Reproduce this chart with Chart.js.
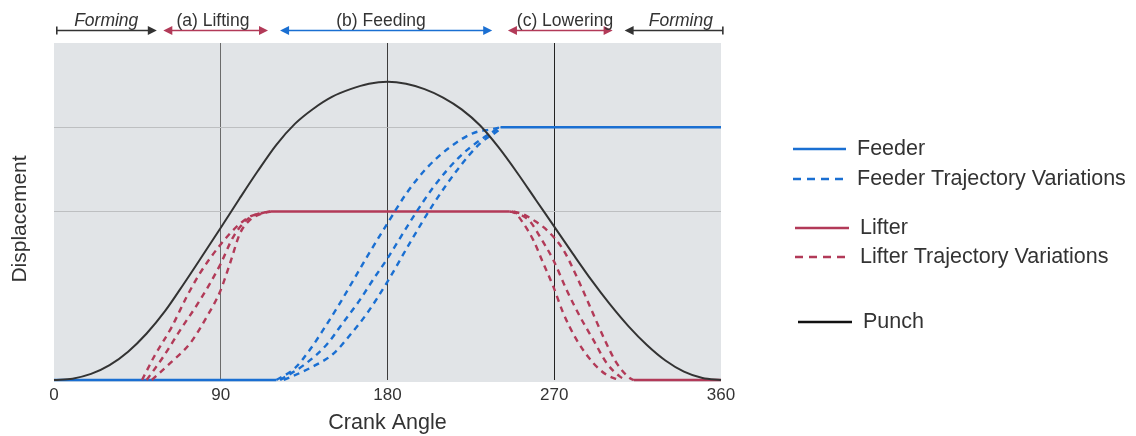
<!DOCTYPE html>
<html><head><meta charset="utf-8">
<script src="https://cdn.jsdelivr.net/npm/chart.js@4.4.1/dist/chart.umd.min.js"></script>
<style>html,body{margin:0;padding:0;background:#fff;}#wrap{width:1136px;height:436px;position:relative;}</style>
</head><body><div id="wrap"><canvas id="c" width="1136" height="436"></canvas></div>
<script>
// ---------- data ----------
const xTickValues = [0, 90, 180, 270, 360];
const yGridValues = [0.5, 0.75];

const punchAngles = [0,10,20,30,40,50,60,70,80,90,100,110,120,130,140,150,160,170,180,190,200,210,220,230,240,250,260,270,280,290,300,310,320,330,340,350,360];
const punchValues = [0,0.004,0.018,0.044,0.084,0.138,0.205,0.285,0.368,0.452,0.537,0.62,0.698,0.76,0.805,0.84,0.863,0.879,0.885,0.879,0.863,0.838,0.803,0.755,0.69,0.615,0.535,0.455,0.375,0.297,0.225,0.16,0.104,0.058,0.025,0.006,0];

const feederBaseAngles = [0, 120];
const feederBaseValues = [0, 0];
const feederTopAngles = [241, 360];
const feederTopValues = [0.75, 0.75];

const feederVarAAngles = [120,130,138,146,154,162,169,180,190,201,214,226,237,241];
const feederVarAValues = [0,0.035,0.089,0.155,0.225,0.30,0.366,0.465,0.552,0.628,0.692,0.732,0.745,0.75];
const feederVarBAngles = [122,135,147,156,165,172,180,194,205,219,230,237,241];
const feederVarBValues = [0,0.045,0.104,0.17,0.237,0.296,0.361,0.485,0.574,0.663,0.712,0.737,0.75];
const feederVarCAngles = [124,138,151,160,169,180,192,205,219,230,239,242];
const feederVarCValues = [0,0.035,0.079,0.135,0.198,0.292,0.406,0.524,0.633,0.702,0.737,0.75];

const lifterTopAngles = [117, 246];
const lifterTopValues = [0.5, 0.5];
const lifterBaseAngles = [313, 360];
const lifterBaseValues = [0, 0];

const lifterUpAAngles = [47.5,54,63.6,71.6,78.8,89.6,98.6,105.8,114.8,117];
const lifterUpAValues = [0,0.069,0.158,0.247,0.317,0.40,0.455,0.485,0.498,0.5];
const lifterUpBAngles = [50,59,68.1,78.8,89.6,96.8,104,111.2,117];
const lifterUpBValues = [0,0.069,0.148,0.237,0.341,0.425,0.475,0.495,0.5];
const lifterUpCAngles = [52.8,62.7,73.5,82.5,89.6,95,100.4,105.8,113,117];
const lifterUpCValues = [0,0.05,0.109,0.188,0.262,0.346,0.435,0.475,0.495,0.5];

const lifterDownAAngles = [246,249,253.3,258.7,264.1,269.5,274.9,282.1,291.1,298.3,305];
const lifterDownAValues = [0.5,0.495,0.465,0.415,0.346,0.277,0.198,0.119,0.05,0.015,0];
const lifterDownBAngles = [247,252,257,262.3,269.5,276.7,283.9,291.1,298.3,305.5,309];
const lifterDownBValues = [0.5,0.49,0.47,0.425,0.356,0.267,0.188,0.119,0.05,0.01,0];
const lifterDownCAngles = [248,254,260,266,274.9,282.1,289.3,296.5,303.7,310.9,313];
const lifterDownCValues = [0.5,0.49,0.47,0.445,0.386,0.307,0.218,0.128,0.05,0.005,0];

const phaseLabels = ['Forming', '(a) Lifting', '(b) Feeding', '(c) Lowering', 'Forming'];
const legendLabels = ['Feeder', 'Feeder Trajectory Variations', 'Lifter', 'Lifter Trajectory Variations', 'Punch'];
const xTitle = 'Crank Angle';
const yTitle = 'Displacement';

// ---------- styles ----------
const BLUE = '#1a6fd2';
const RED = '#b23a58';
const BLACK = '#333333';
const FONT = '"Liberation Sans", Arial, sans-serif';
const TXT = '#333333';

function pts(xs, ys) { return xs.map((x, i) => ({ x: x, y: ys[i] })); }

function solid(data, color, w) {
  return { data: data, borderColor: color, borderWidth: w || 2.5, pointRadius: 0, fill: false, tension: 0, clip: false };
}
function dashed(data, color) {
  return { data: data, borderColor: color, borderWidth: 2.4, borderDash: [6, 5], pointRadius: 0, fill: false, cubicInterpolationMode: 'monotone', clip: false };
}

const datasets = [
  Object.assign(solid(pts(punchAngles, punchValues), BLACK, 2), { cubicInterpolationMode: 'monotone' }),
  dashed(pts(lifterUpAAngles, lifterUpAValues), RED),
  dashed(pts(lifterUpBAngles, lifterUpBValues), RED),
  dashed(pts(lifterUpCAngles, lifterUpCValues), RED),
  dashed(pts(lifterDownAAngles, lifterDownAValues), RED),
  dashed(pts(lifterDownBAngles, lifterDownBValues), RED),
  dashed(pts(lifterDownCAngles, lifterDownCValues), RED),
  dashed(pts(feederVarAAngles, feederVarAValues), BLUE),
  dashed(pts(feederVarBAngles, feederVarBValues), BLUE),
  dashed(pts(feederVarCAngles, feederVarCValues), BLUE),
  solid(pts(lifterTopAngles, lifterTopValues), RED),
  solid(pts(lifterBaseAngles, lifterBaseValues), RED),
  solid(pts(feederBaseAngles, feederBaseValues), BLUE),
  solid(pts(feederTopAngles, feederTopValues), BLUE)
];

const bgPlugin = {
  id: 'bg',
  beforeDraw(chart) {
    const a = chart.chartArea, ctx = chart.ctx;
    ctx.save();
    ctx.fillStyle = '#e1e4e7';
    ctx.fillRect(a.left, a.top, a.right - a.left, a.bottom - a.top + 2);
    ctx.restore();
  }
};

function arrowHead(ctx, x, y, dir, color) {
  ctx.fillStyle = color;
  ctx.beginPath();
  ctx.moveTo(x, y);
  ctx.lineTo(x - dir * 9, y - 4.5);
  ctx.lineTo(x - dir * 9, y + 4.5);
  ctx.closePath();
  ctx.fill();
}

const annoPlugin = {
  id: 'anno',
  afterDraw(chart) {
    const ctx = chart.ctx;
    const xs = chart.scales.x;
    ctx.save();
    // y axis title
    ctx.save();
    ctx.translate(20, 219);
    ctx.rotate(-Math.PI / 2);
    ctx.fillStyle = TXT;
    ctx.font = '21px ' + FONT;
    ctx.textAlign = 'center';
    ctx.textBaseline = 'middle';
    ctx.fillText(yTitle, 0, 0);
    ctx.restore();
    // phase arrows
    const ay = 30.5;
    const phases = [
      { a: 1.5, b: 55.5, t: 28.2, color: BLACK, label: phaseLabels[0], italic: true, left: 'bar', right: 'head' },
      { a: 59, b: 115.5, t: 85.8, color: RED, label: phaseLabels[1], italic: false, left: 'head', right: 'head' },
      { a: 122, b: 236.5, t: 176.5, color: BLUE, label: phaseLabels[2], italic: false, left: 'head', right: 'head' },
      { a: 245, b: 301.5, t: 275.8, color: RED, label: phaseLabels[3], italic: false, left: 'head', right: 'head' },
      { a: 308, b: 361, t: 338.3, color: BLACK, label: phaseLabels[4], italic: true, left: 'head', right: 'bar' }
    ];
    phases.forEach(p => {
      const x1 = xs.getPixelForValue(p.a), x2 = xs.getPixelForValue(p.b);
      ctx.strokeStyle = p.color;
      ctx.lineWidth = 1.6;
      ctx.beginPath();
      ctx.moveTo(x1 + (p.left === 'head' ? 4 : 0), ay);
      ctx.lineTo(x2 - (p.right === 'head' ? 4 : 0), ay);
      ctx.stroke();
      if (p.left === 'head') arrowHead(ctx, x1, ay, -1, p.color);
      else { ctx.beginPath(); ctx.moveTo(x1, ay - 4); ctx.lineTo(x1, ay + 4); ctx.stroke(); }
      if (p.right === 'head') arrowHead(ctx, x2, ay, 1, p.color);
      else { ctx.beginPath(); ctx.moveTo(x2, ay - 4); ctx.lineTo(x2, ay + 4); ctx.stroke(); }
      ctx.fillStyle = TXT;
      ctx.font = (p.italic ? 'italic ' : '') + '17.5px ' + FONT;
      ctx.textAlign = 'center';
      ctx.textBaseline = 'alphabetic';
      ctx.fillText(p.label, xs.getPixelForValue(p.t), 25.5);
    });
    // legend
    const rows = [
      { label: legendLabels[0], color: BLUE, dash: false, y: 149, x1: 793, x2: 846, tx: 857 },
      { label: legendLabels[1], color: BLUE, dash: true, y: 179, x1: 793, x2: 846, tx: 857 },
      { label: legendLabels[2], color: RED, dash: false, y: 228, x1: 795, x2: 849, tx: 860 },
      { label: legendLabels[3], color: RED, dash: true, y: 257, x1: 795, x2: 849, tx: 860 },
      { label: legendLabels[4], color: '#111', dash: false, y: 322, x1: 798, x2: 852, tx: 863 }
    ];
    rows.forEach(r => {
      ctx.strokeStyle = r.color;
      ctx.lineWidth = 2.3;
      ctx.setLineDash(r.dash ? [8, 6] : []);
      ctx.beginPath();
      ctx.moveTo(r.x1, r.y);
      ctx.lineTo(r.x2, r.y);
      ctx.stroke();
      ctx.setLineDash([]);
      ctx.fillStyle = TXT;
      ctx.font = '21.5px ' + FONT;
      ctx.textAlign = 'left';
      ctx.textBaseline = 'middle';
      ctx.fillText(r.label, r.tx, r.y);
    });
    ctx.restore();
  }
};

const vColors = { 90: '#6b6b6b', 180: '#3c3c3c', 270: '#222222' };

new Chart(document.getElementById('c'), {
  type: 'line',
  data: { datasets: datasets },
  options: {
    responsive: false,
    animation: false,
    events: [],
    layout: { padding: { top: 43, right: 415, left: 0, bottom: 0 } },
    plugins: { legend: { display: false }, tooltip: { enabled: false } },
    scales: {
      x: {
        type: 'linear', min: 0, max: 360,
        afterBuildTicks: s => { s.ticks = xTickValues.map(v => ({ value: v })); },
        afterFit: s => { s.height = 56; },
        ticks: { color: TXT, font: { size: 17, family: FONT }, padding: 5, maxRotation: 0, autoSkip: false },
        grid: { drawTicks: false, lineWidth: 1, color: ctx => (ctx.tick && vColors[ctx.tick.value]) ? vColors[ctx.tick.value] : 'rgba(0,0,0,0)' },
        border: { display: false },
        title: { display: true, text: xTitle, color: TXT, font: { size: 21.5, family: FONT }, padding: { top: 0, bottom: 0 } }
      },
      y: {
        type: 'linear', min: 0, max: 1,
        afterBuildTicks: s => { s.ticks = yGridValues.map(v => ({ value: v })); },
        afterFit: s => { s.width = 54; },
        ticks: { display: false },
        grid: { drawTicks: false, color: '#bdbfc1', lineWidth: 1 },
        border: { display: false },
        title: { display: false, text: yTitle }
      }
    }
  },
  plugins: [bgPlugin, annoPlugin]
});
</script>
</body></html>
